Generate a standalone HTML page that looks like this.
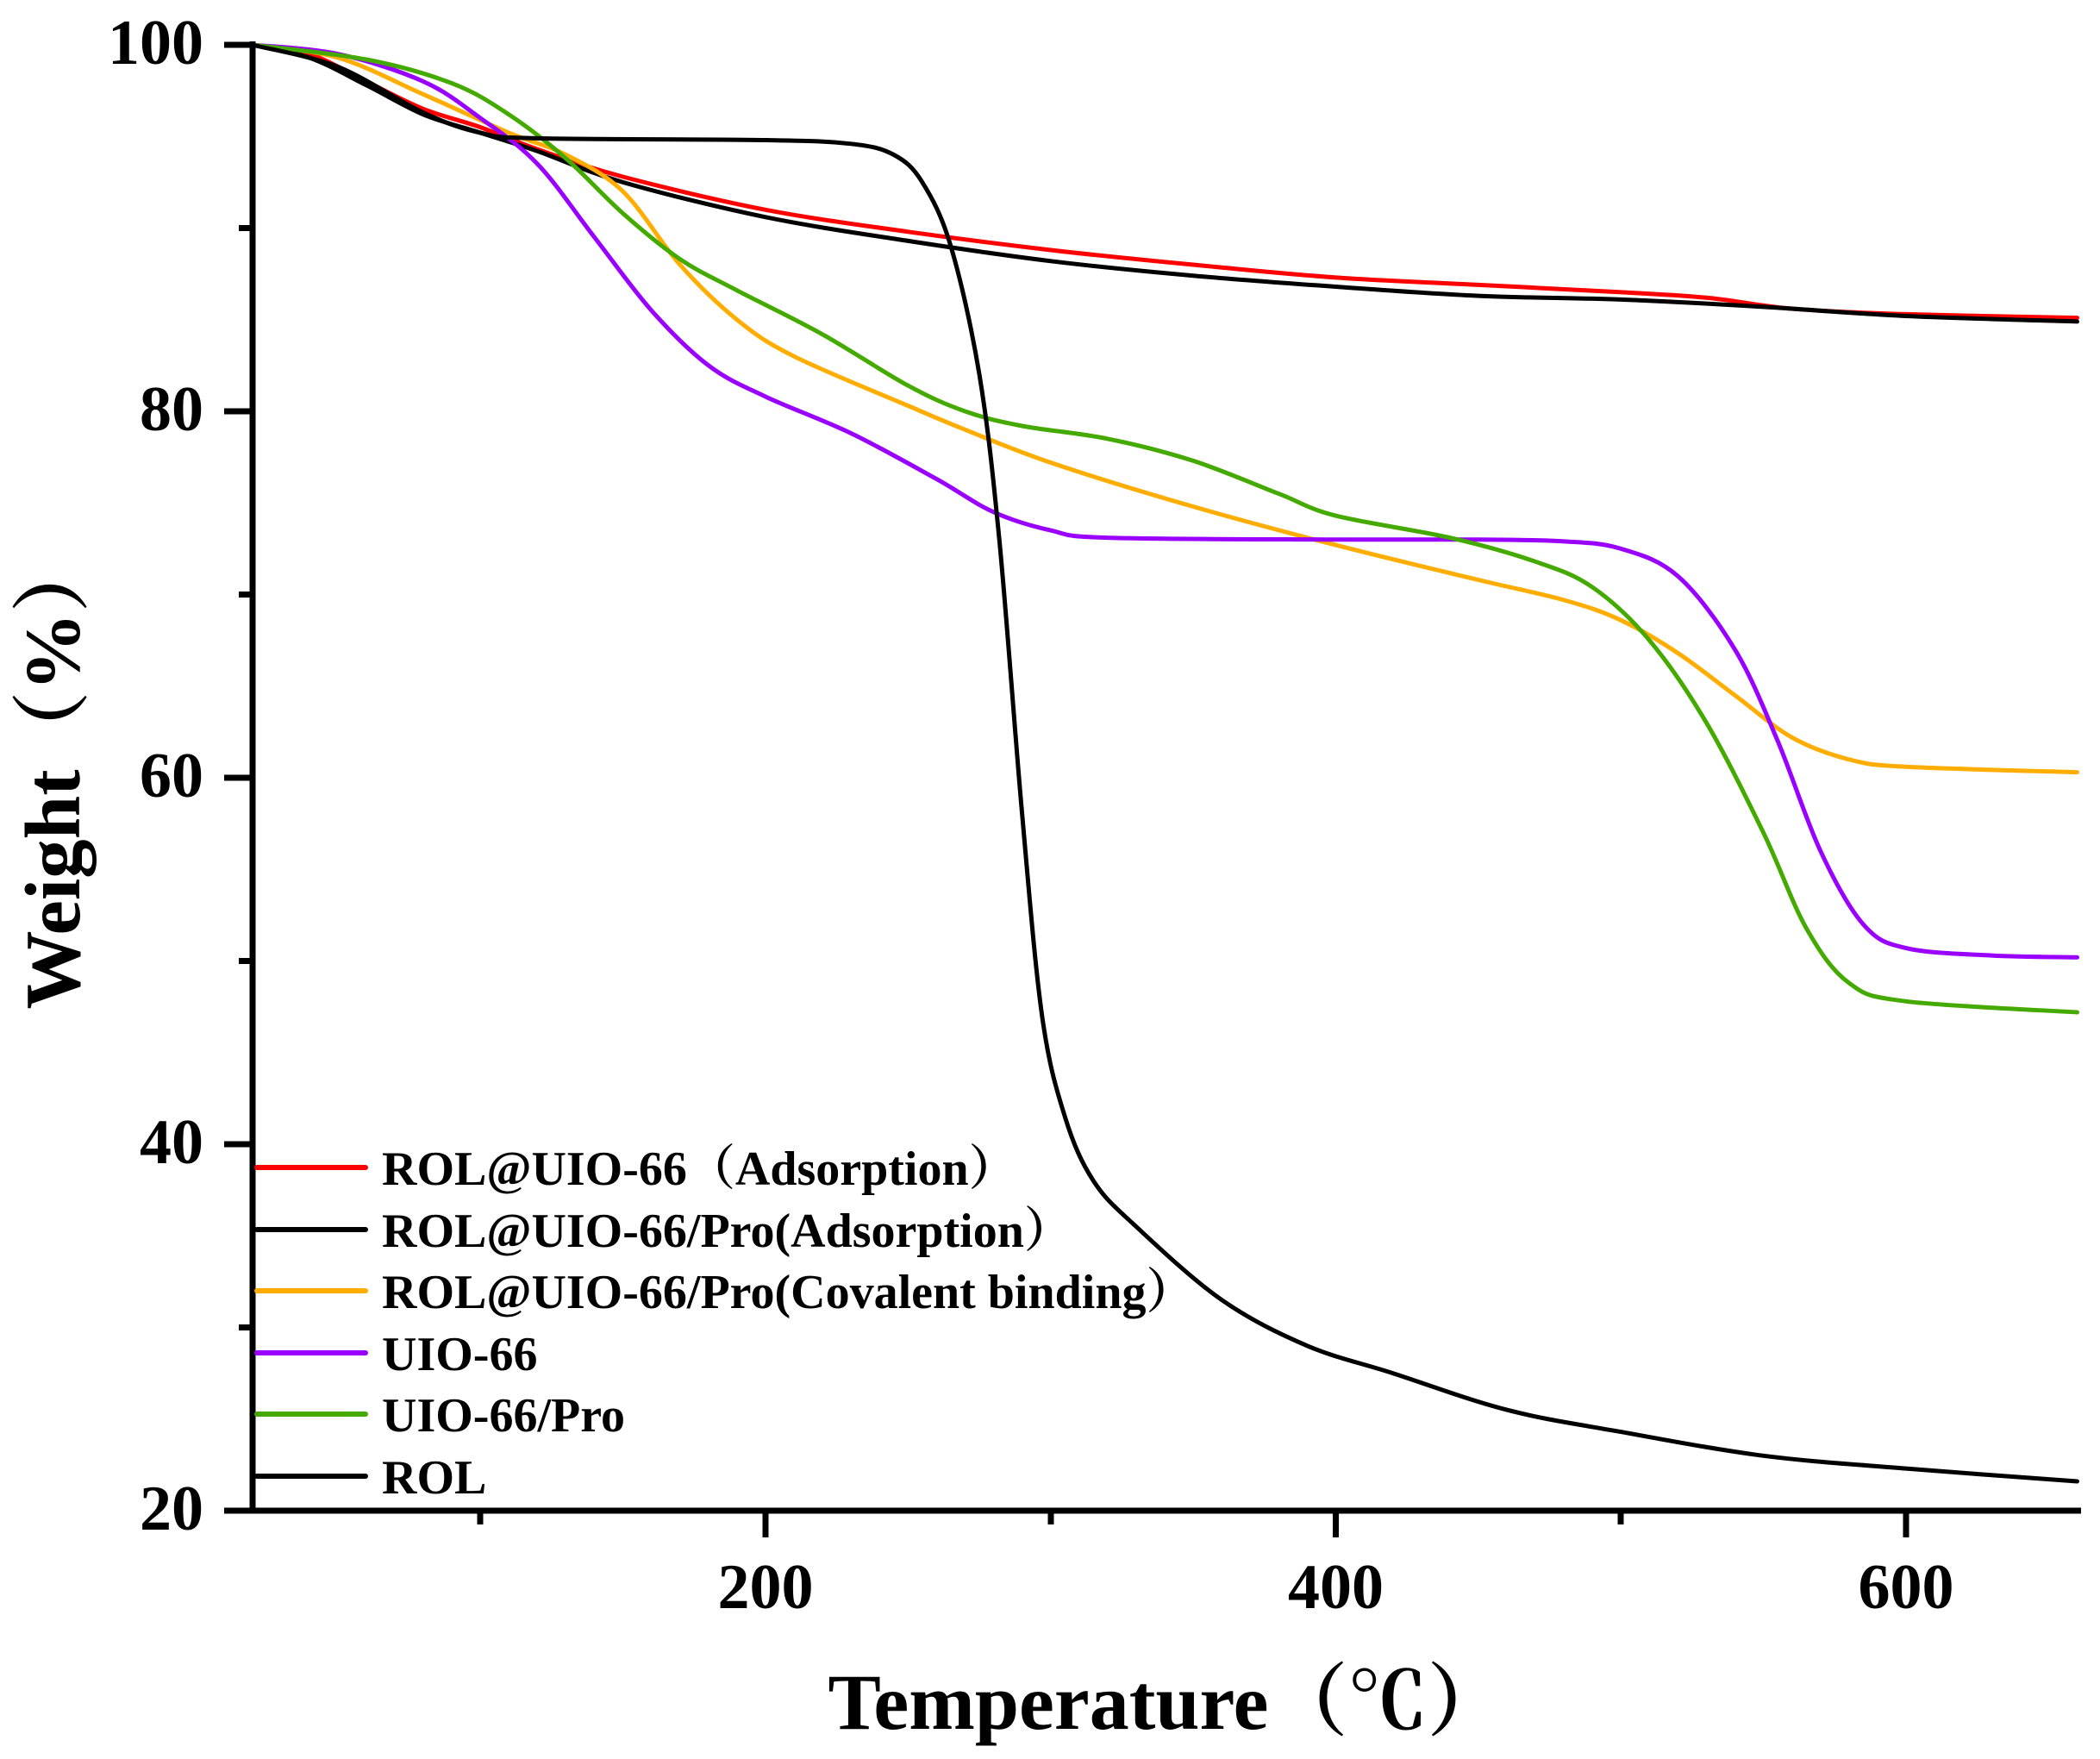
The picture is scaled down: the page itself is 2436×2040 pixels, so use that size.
<!DOCTYPE html>
<html><head><meta charset="utf-8"><style>
html,body{margin:0;padding:0;background:#fff}
svg{display:block}
text{font-family:"Liberation Serif","Noto Serif CJK SC",serif;font-weight:bold;fill:#000}
</style></head><body>
<svg id="s" width="2436" height="2040" viewBox="0 0 2436 2040" xmlns="http://www.w3.org/2000/svg">
<g id="curves" fill="none" stroke-linejoin="round" stroke-linecap="round" stroke-width="5">
<path id="c0" stroke="#ff0000"/>
<path id="c1" stroke="#000"/>
<path id="c2" stroke="#ffad00"/>
<path id="c3" stroke="#9900ff"/>
<path id="c4" stroke="#44aa00"/>
<path id="c5" stroke="#000"/>
</g>
<g stroke="#000" stroke-width="7" fill="none">
<path d="M293,48 V1752 H2414"/>
<path d="M260,52 H293 M260,477 H293 M260,902 H293 M260,1327 H293 M260,1752 H293"/>
<path d="M277,264.5 H293 M277,689.5 H293 M277,1114.5 H293 M277,1539.5 H293"/>
<path d="M888,1752 V1783 M1549.5,1752 V1783 M2211,1752 V1783"/>
<path d="M557,1752 V1768 M1219,1752 V1768 M1880,1752 V1768"/>
</g>
<g font-size="74" text-anchor="end">
<text x="236" y="74">100</text><text x="236" y="499">80</text><text x="236" y="924">60</text><text x="236" y="1349">40</text><text x="236" y="1774">20</text>
</g>
<g font-size="74" text-anchor="middle">
<text x="888" y="1865">200</text><text x="1549.5" y="1865">400</text><text x="2211" y="1865">600</text>
</g>
<text x="1354" y="2005" font-size="92" text-anchor="middle">Temperature（℃）</text>
<text transform="translate(92,895) rotate(-90)" font-size="91" text-anchor="middle">Weight（%）</text>
<g stroke-width="6" stroke-linecap="round">
<line x1="298" y1="1354" x2="424" y2="1354" stroke="#ff0000"/>
<line x1="298" y1="1426" x2="424" y2="1426" stroke="#000"/>
<line x1="298" y1="1497" x2="424" y2="1497" stroke="#ffad00"/>
<line x1="298" y1="1569" x2="424" y2="1569" stroke="#9900ff"/>
<line x1="298" y1="1640" x2="424" y2="1640" stroke="#44aa00"/>
<line x1="298" y1="1712" x2="424" y2="1712" stroke="#000"/>
</g>
<g font-size="56">
<text x="443" y="1374">ROL@UIO-66（Adsorption）</text>
<text x="443" y="1446">ROL@UIO-66/Pro(Adsorption）</text>
<text x="443" y="1517">ROL@UIO-66/Pro(Covalent binding）</text>
<text x="443" y="1589">UIO-66</text>
<text x="443" y="1660">UIO-66/Pro</text>
<text x="443" y="1732">ROL</text>
</g>
</svg>
<script>
var D=[
[20,100,40,99.5,60,98,80,96.5,100,95.5,120,94.3,150,92.8,200,91,250,89.8,300,88.8,350,88,400,87.3,450,86.9,500,86.5,530,86.2,560,85.6,600,85.3,660,85.1],
[20,100,40,99.3,60,97.8,80,96.2,100,95.2,120,94.2,150,92.5,200,90.6,250,89.3,300,88.2,350,87.4,400,86.8,450,86.3,500,86.1,550,85.7,600,85.2,660,84.9],
[20,100,50,99.3,80,97.3,110,95.2,130,94,150,92,170,88,190,85,210,83,250,80.3,270,79,300,77.2,350,74.8,400,72.7,450,70.8,480,69.7,500,68.6,520,66.8,540,64.5,560,62.2,580,61,600,60.6,660,60.3],
[20,100,50,99.5,80,98,100,96,120,93.5,140,89.5,160,85.5,180,82.5,200,80.8,230,78.8,260,76.3,280,74.5,300,73.5,320,73.1,400,73,450,73,480,72.9,500,72.5,520,71,540,67,555,62,570,56,585,52,600,50.7,630,50.3,660,50.2],
[20,100,60,99.2,90,97.9,110,96.2,130,93.8,150,90.8,170,88.3,190,86.6,220,84.2,250,81.4,270,80,290,79.2,320,78.5,350,77.3,380,75.5,400,74.3,440,73.1,470,71.8,490,70.4,510,67.5,530,63,550,57,565,51.8,580,48.8,600,47.8,660,47.2],
[20,100,50,98.8,80,96.3,100,95.2,120,94.9,200,94.8,230,94.6,245,94,255,92.5,265,89,275,82,282,73,290,58,297,47,305,41.5,315,38,330,35.5,360,31.5,390,29,420,27.5,460,25.5,500,24.3,550,23,600,22.3,660,21.6]];
function X(t){return 226.5+3.3075*t}function Y(w){return 2177-21.25*w}
D.forEach(function(a,k){var p=[];for(var i=0;i<a.length;i+=2)p.push([X(a[i]),Y(a[i+1])]);
var d="M"+p[0][0].toFixed(1)+","+p[0][1].toFixed(1);
for(var i=0;i<p.length-1;i++){var p0=p[i>0?i-1:i],p1=p[i],p2=p[i+1],p3=p[i+2<p.length?i+2:i+1];
var c1x=p1[0]+(p2[0]-p0[0])/6,c1y=p1[1]+(p2[1]-p0[1])/6,c2x=p2[0]-(p3[0]-p1[0])/6,c2y=p2[1]-(p3[1]-p1[1])/6;
d+=" C"+c1x.toFixed(1)+","+c1y.toFixed(1)+" "+c2x.toFixed(1)+","+c2y.toFixed(1)+" "+p2[0].toFixed(1)+","+p2[1].toFixed(1);}
document.getElementById("c"+k).setAttribute("d",d);});
</script>
</body></html>
